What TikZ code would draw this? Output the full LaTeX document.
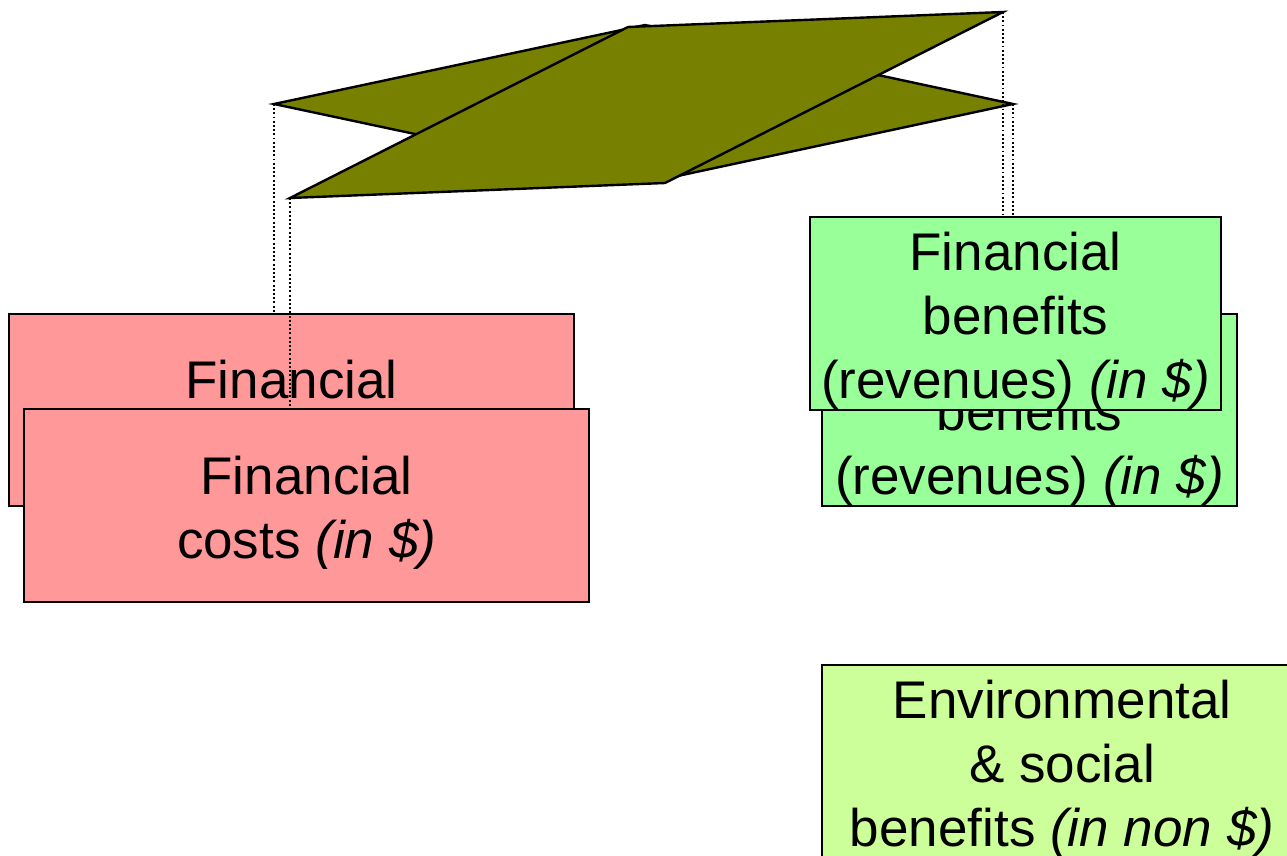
\documentclass[tikz,border=0pt]{standalone}
\usepackage{fontspec}
\setmainfont{Liberation Sans}
\definecolor{costpink}{HTML}{FF9999}
\definecolor{gaingreen}{HTML}{99FF99}
\definecolor{softgreen}{HTML}{CCFF99}
\definecolor{plankolive}{RGB}{120,128,0}
\begin{document}
\begin{tikzpicture}[x=1pt,y=-1pt,
  panel/.style={draw=black, line width=2.2pt, inner sep=0pt, anchor=north west},
  caption/.style={font=\fontsize{53}{64}\selectfont, align=center, inner sep=0pt, yshift=-7pt},
  plank/.style={draw=black, fill=plankolive, line width=2.4pt, line join=miter},
  guide/.style={line width=1.9pt, dash pattern=on 1.9pt off 2.3pt}]
\useasboundingbox (0,0) rectangle (1287,856);
\clip (0,0) rectangle (1287,856);

% the two crossed planks
\coordinate (rL) at (274,104);
\coordinate (rT) at (645,25);
\coordinate (rR) at (1013,104);
\coordinate (rB) at (645,183);
\coordinate (pTL) at (628,27);
\coordinate (pTR) at (1003,12);
\coordinate (pBR) at (665,183);
\coordinate (pBL) at (290,198);
\draw[plank] (rL) -- (rT) -- (rR) -- (rB) -- cycle;
\draw[plank] (pBL) -- (pTL) -- (pTR) -- (pBR) -- cycle;

% cost side
\coordinate (pinkFrontCorner) at (23,408);
\node[panel, fill=costpink, minimum width=565pt, minimum height=192pt] (pinkBack) at (8,313) {};
\node[caption] (pinkBackText) at (pinkBack.center) {Financial\\costs \textit{(in \$)}};
\draw[guide] (rL) -- (rL |- pinkBack.north);
\draw[guide] (pBL) -- (pBL |- pinkFrontCorner);
\node[panel, fill=costpink, minimum width=565pt, minimum height=193pt] (pinkFront) at (pinkFrontCorner) {};
\node[caption] (pinkFrontText) at (pinkFront.center) {Financial\\costs \textit{(in \$)}};

% benefit side
\node[panel, fill=gaingreen, minimum width=415pt, minimum height=192pt] (greenBack) at (821,313) {};
\node[caption] (greenBackText) at (greenBack.center) {Financial\\benefits\\(revenues) \textit{(in \$)}};
\node[panel, fill=gaingreen, minimum width=411pt, minimum height=193pt] (greenFront) at (809,216) {};
\node[caption] (greenFrontText) at (greenFront.center) {Financial\\benefits\\(revenues) \textit{(in \$)}};
\draw[guide] (pTR) -- (pTR |- greenFront.north);
\draw[guide] (rR) -- (rR |- greenFront.north);

% non-monetary benefits
\node[panel, fill=softgreen, minimum width=480pt, minimum height=193pt] (envBox) at (821,664) {};
\node[caption] (envText) at (envBox.center) {Environmental\\\& social\\benefits \textit{(in non \$)}};
\end{tikzpicture}
\end{document}
